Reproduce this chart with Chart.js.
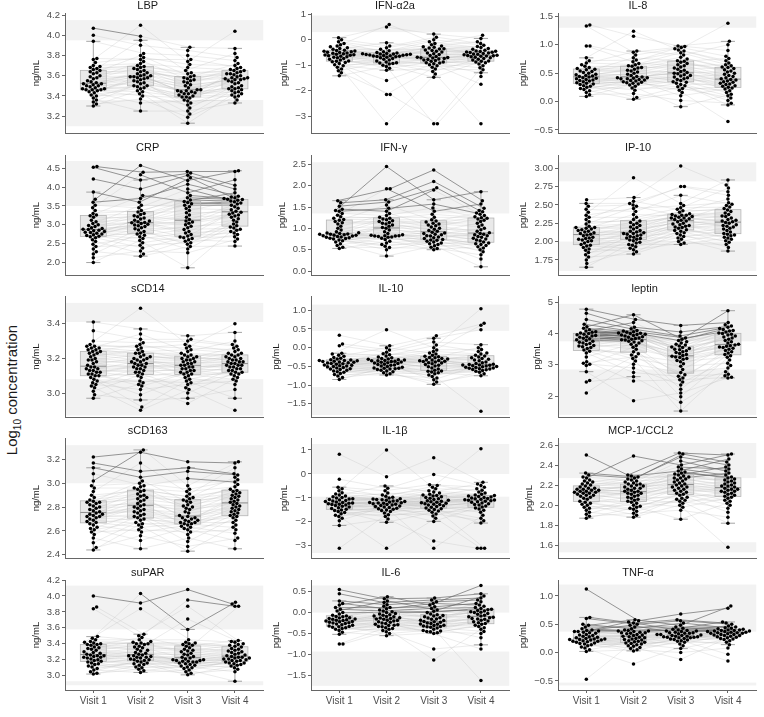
<!DOCTYPE html>
<html>
<head>
<meta charset="utf-8">
<script src="https://cdn.jsdelivr.net/npm/chart.js@4.4.1/dist/chart.umd.min.js"></script>
<style>
  body { margin: 0; background: #fff; width: 764px; height: 717px; position: relative; overflow: hidden; font-family: 'Liberation Sans', Arial, sans-serif; }
  canvas { position: absolute; }
  #ylab { position: absolute; left: 13px; top: 390px; transform: translate(-50%, -50%) rotate(-90deg); white-space: nowrap; font-size: 15px; color: #1a1a1a; }
  #ylab sub { font-size: 10px; }
</style>
</head>
<body>
<div id="ylab">Log<sub>10</sub> concentration</div>
<script>
const visits = ['Visit 1', 'Visit 2', 'Visit 3', 'Visit 4'];
const markers = ['LBP', 'IFN-α2a', 'IL-8', 'CRP', 'IFN-γ', 'IP-10', 'sCD14', 'IL-10', 'leptin',
                 'sCD163', 'IL-1β', 'MCP-1/CCL2', 'suPAR', 'IL-6', 'TNF-α'];
const units = ['ng/mL', 'pg/mL', 'pg/mL', 'ng/mL', 'pg/mL', 'pg/mL', 'ng/mL', 'pg/mL', 'pg/mL',
               'ng/mL', 'pg/mL', 'pg/mL', 'ng/mL', 'pg/mL', 'pg/mL'];
const yRanges = [[3.03, 4.22], [-3.68, 1.05], [-0.56, 1.56], [1.65, 4.86], [-0.1, 2.72], [1.54, 3.18],
                 [2.86, 3.56], [-1.86, 1.38], [1.32, 5.2], [2.37, 3.38], [-3.52, 1.5], [1.47, 2.67],
                 [2.82, 4.2], [-1.85, 0.78], [-0.66, 1.28]];
const yTicks = [[3.2, 3.4, 3.6, 3.8, 4.0, 4.2], [-3, -2, -1, 0, 1], [-0.5, 0, 0.5, 1.0, 1.5],
                [2.0, 2.5, 3.0, 3.5, 4.0, 4.5], [0, 0.5, 1.0, 1.5, 2.0, 2.5], [1.75, 2.0, 2.25, 2.5, 2.75, 3.0],
                [3.0, 3.2, 3.4], [-1.5, -1.0, -0.5, 0, 0.5, 1.0], [2, 3, 4, 5],
                [2.4, 2.6, 2.8, 3.0, 3.2], [-3, -2, -1, 0, 1], [1.6, 1.8, 2.0, 2.2, 2.4, 2.6],
                [3.0, 3.2, 3.4, 3.6, 3.8, 4.0, 4.2], [-1.5, -1.0, -0.5, 0, 0.5], [-0.5, 0, 0.5, 1.0]];
const tickDecimals = [1, 0, 1, 1, 1, 2, 1, 1, 0, 1, 0, 1, 1, 1, 1];
// shaded reference bands, the last one in each list is the upper band
const bands = [[[3.1, 3.36], [3.95, 4.15]], [[0.3, 0.95]], [[1.3, 1.5]], [[3.5, 4.7]], [[1.35, 2.55]],
               [[1.6, 2.0], [2.82, 3.08]], [[2.87, 3.08], [3.41, 3.52]], [[-1.8, -1.05], [0.45, 1.15]],
               [[1.4, 2.85], [3.75, 4.95]], [[3.0, 3.32]], [[-3.3, -0.95], [0, 1.25]],
               [[1.53, 1.63], [2.27, 2.62]], [[2.88, 2.93], [3.58, 4.13]], [[-1.75, -0.93], [0.0, 0.65]],
               [[-0.58, -0.53], [0.37, 1.2]]];

// values per visit, sorted low to high
const lbp = [
  [3.30,3.32,3.34,3.36,3.38,3.40,3.41,3.43,3.44,3.45,3.46,3.46,3.46,3.47,3.47,3.48,3.49,3.50,3.50,3.51,3.52,3.52,3.53,3.54,3.55,3.57,3.58,3.59,3.60,3.62,3.63,3.64,3.65,3.66,3.67,3.68,3.69,3.70,3.73,3.76,3.77,3.94,4.00,4.07],
  [3.25,3.33,3.37,3.40,3.42,3.44,3.45,3.47,3.48,3.49,3.50,3.50,3.52,3.53,3.54,3.55,3.56,3.57,3.58,3.58,3.59,3.59,3.60,3.60,3.61,3.62,3.63,3.64,3.65,3.66,3.67,3.68,3.69,3.70,3.72,3.74,3.76,3.78,3.80,3.82,3.90,3.95,3.99,4.10],
  [3.13,3.19,3.22,3.25,3.28,3.31,3.33,3.35,3.36,3.38,3.39,3.39,3.40,3.41,3.42,3.42,3.43,3.44,3.44,3.45,3.45,3.46,3.46,3.48,3.50,3.51,3.53,3.54,3.55,3.56,3.57,3.58,3.59,3.60,3.62,3.63,3.65,3.68,3.71,3.74,3.76,3.80,3.85,3.88],
  [3.33,3.36,3.39,3.40,3.41,3.42,3.43,3.44,3.45,3.46,3.47,3.47,3.48,3.49,3.50,3.52,3.53,3.54,3.55,3.56,3.56,3.57,3.57,3.58,3.58,3.59,3.60,3.61,3.62,3.62,3.63,3.64,3.65,3.65,3.66,3.67,3.68,3.70,3.72,3.75,3.78,3.82,3.87,4.04]];
const ifna2a = [
  [-1.42,-1.30,-1.22,-1.15,-1.08,-1.02,-0.98,-0.94,-0.90,-0.87,-0.85,-0.84,-0.80,-0.77,-0.74,-0.71,-0.69,-0.67,-0.65,-0.63,-0.61,-0.60,-0.59,-0.57,-0.55,-0.53,-0.52,-0.50,-0.49,-0.47,-0.45,-0.44,-0.42,-0.41,-0.38,-0.35,-0.32,-0.28,-0.25,-0.20,-0.15,-0.08,0.00,0.08],
  [-3.30,-2.15,-2.15,-1.60,-1.20,-1.12,-1.05,-1.00,-0.96,-0.94,-0.92,-0.91,-0.88,-0.84,-0.80,-0.77,-0.74,-0.71,-0.69,-0.67,-0.66,-0.65,-0.64,-0.63,-0.62,-0.61,-0.60,-0.59,-0.58,-0.57,-0.56,-0.56,-0.55,-0.54,-0.52,-0.50,-0.47,-0.43,-0.38,-0.32,-0.25,-0.12,0.50,0.60],
  [-3.30,-3.30,-1.48,-1.35,-1.25,-1.15,-1.08,-1.02,-0.98,-0.95,-0.92,-0.91,-0.88,-0.85,-0.82,-0.80,-0.78,-0.76,-0.74,-0.72,-0.71,-0.70,-0.69,-0.66,-0.62,-0.58,-0.55,-0.52,-0.48,-0.45,-0.42,-0.40,-0.37,-0.36,-0.33,-0.30,-0.28,-0.25,-0.20,-0.15,-0.08,0.00,0.10,0.22],
  [-3.30,-1.75,-1.45,-1.30,-1.18,-1.10,-1.02,-0.96,-0.91,-0.88,-0.85,-0.84,-0.80,-0.77,-0.74,-0.71,-0.69,-0.67,-0.65,-0.64,-0.63,-0.62,-0.61,-0.59,-0.57,-0.56,-0.54,-0.52,-0.50,-0.49,-0.48,-0.46,-0.45,-0.44,-0.41,-0.38,-0.35,-0.31,-0.27,-0.22,-0.15,-0.08,0.05,0.18]];
const il8 = [
  [0.09,0.12,0.16,0.19,0.21,0.23,0.25,0.27,0.28,0.30,0.31,0.32,0.33,0.35,0.36,0.37,0.38,0.39,0.40,0.41,0.42,0.43,0.44,0.45,0.46,0.47,0.48,0.50,0.51,0.53,0.54,0.56,0.57,0.58,0.60,0.62,0.65,0.68,0.72,0.77,0.98,0.98,1.33,1.35],
  [0.04,0.07,0.14,0.20,0.24,0.27,0.29,0.31,0.32,0.33,0.34,0.35,0.36,0.37,0.38,0.39,0.40,0.40,0.41,0.42,0.42,0.43,0.44,0.46,0.48,0.50,0.52,0.54,0.55,0.57,0.59,0.60,0.62,0.63,0.65,0.67,0.70,0.73,0.77,0.82,0.87,0.89,1.15,1.24],
  [-0.09,0.02,0.10,0.16,0.20,0.23,0.26,0.28,0.30,0.32,0.34,0.35,0.37,0.39,0.40,0.42,0.43,0.45,0.46,0.47,0.49,0.50,0.51,0.53,0.55,0.57,0.59,0.61,0.63,0.65,0.67,0.69,0.71,0.72,0.75,0.78,0.82,0.86,0.89,0.91,0.93,0.95,0.97,0.98],
  [-0.35,-0.06,-0.03,0.02,0.06,0.10,0.13,0.16,0.19,0.22,0.24,0.25,0.27,0.28,0.30,0.31,0.32,0.34,0.35,0.36,0.38,0.39,0.40,0.42,0.44,0.46,0.48,0.50,0.52,0.54,0.56,0.58,0.60,0.61,0.63,0.65,0.68,0.72,0.76,0.80,0.90,1.00,1.06,1.38]];
const crp = [
  [1.99,2.12,2.22,2.28,2.35,2.42,2.48,2.55,2.60,2.65,2.68,2.69,2.71,2.73,2.75,2.77,2.79,2.80,2.82,2.84,2.85,2.87,2.88,2.90,2.92,2.95,2.98,3.00,3.03,3.08,3.12,3.20,3.24,3.26,3.30,3.38,3.45,3.52,3.60,3.68,3.87,4.22,4.53,4.55],
  [2.16,2.22,2.30,2.38,2.45,2.52,2.58,2.63,2.68,2.72,2.75,2.78,2.82,2.86,2.89,2.92,2.95,2.97,2.99,3.01,3.03,3.05,3.06,3.08,3.10,3.12,3.15,3.18,3.21,3.24,3.27,3.30,3.34,3.38,3.45,3.52,3.60,3.70,3.78,3.95,4.19,4.33,4.40,4.58],
  [1.85,2.25,2.35,2.42,2.48,2.52,2.56,2.60,2.63,2.65,2.67,2.70,2.74,2.78,2.82,2.87,2.92,2.96,3.00,3.04,3.07,3.10,3.14,3.20,3.26,3.32,3.38,3.43,3.48,3.52,3.56,3.59,3.62,3.66,3.72,3.78,3.85,3.95,4.08,4.18,4.25,4.32,4.38,4.42],
  [2.43,2.55,2.62,2.68,2.74,2.78,2.82,2.85,2.88,2.91,2.94,2.97,3.02,3.07,3.12,3.16,3.20,3.23,3.26,3.28,3.31,3.33,3.36,3.40,3.44,3.48,3.52,3.55,3.58,3.61,3.63,3.65,3.67,3.68,3.70,3.72,3.74,3.76,3.85,3.95,4.05,4.20,4.42,4.44]];
const ifng = [
  [0.53,0.56,0.60,0.64,0.68,0.71,0.73,0.75,0.76,0.77,0.78,0.79,0.80,0.81,0.82,0.83,0.84,0.84,0.85,0.86,0.86,0.87,0.88,0.89,0.90,0.92,0.96,1.00,1.05,1.10,1.13,1.16,1.19,1.21,1.24,1.27,1.31,1.35,1.40,1.42,1.45,1.52,1.60,1.65],
  [0.35,0.50,0.55,0.58,0.62,0.66,0.70,0.74,0.77,0.79,0.80,0.81,0.82,0.82,0.83,0.83,0.84,0.85,0.88,0.92,0.96,1.00,1.02,1.05,1.08,1.10,1.12,1.14,1.16,1.18,1.20,1.22,1.24,1.26,1.30,1.35,1.40,1.47,1.55,1.62,1.67,1.93,1.93,2.45],
  [0.50,0.53,0.56,0.59,0.62,0.64,0.66,0.68,0.70,0.72,0.73,0.74,0.76,0.78,0.80,0.82,0.83,0.85,0.86,0.88,0.89,0.91,0.93,0.95,0.98,1.00,1.03,1.06,1.08,1.10,1.12,1.15,1.17,1.20,1.26,1.33,1.40,1.48,1.57,1.67,1.90,1.95,2.10,2.37],
  [0.10,0.28,0.38,0.45,0.50,0.54,0.57,0.60,0.62,0.64,0.66,0.68,0.71,0.73,0.75,0.77,0.79,0.81,0.83,0.85,0.86,0.88,0.90,0.93,0.97,1.00,1.04,1.08,1.12,1.16,1.19,1.22,1.24,1.25,1.27,1.30,1.33,1.36,1.39,1.42,1.47,1.57,1.65,1.86]];
const ip10 = [
  [1.65,1.70,1.75,1.79,1.82,1.85,1.88,1.90,1.92,1.94,1.95,1.96,1.98,2.00,2.01,2.02,2.03,2.04,2.05,2.06,2.08,2.09,2.10,2.11,2.12,2.13,2.14,2.15,2.16,2.17,2.18,2.19,2.19,2.21,2.24,2.27,2.30,2.33,2.36,2.40,2.44,2.48,2.52,2.57],
  [1.83,1.86,1.89,1.91,1.93,1.95,1.96,1.98,1.99,2.01,2.02,2.03,2.04,2.05,2.06,2.07,2.08,2.09,2.10,2.11,2.11,2.12,2.13,2.14,2.15,2.17,2.19,2.20,2.22,2.23,2.25,2.26,2.28,2.30,2.33,2.37,2.41,2.45,2.48,2.50,2.52,2.55,2.60,2.87],
  [1.96,1.98,2.00,2.03,2.05,2.07,2.09,2.11,2.12,2.14,2.15,2.16,2.18,2.19,2.20,2.21,2.22,2.23,2.24,2.25,2.27,2.28,2.29,2.30,2.31,2.32,2.32,2.33,2.34,2.35,2.36,2.36,2.37,2.38,2.40,2.42,2.44,2.46,2.49,2.52,2.63,2.75,2.75,3.03],
  [1.87,1.92,1.96,1.99,2.01,2.03,2.05,2.06,2.08,2.09,2.10,2.11,2.13,2.15,2.17,2.18,2.20,2.21,2.22,2.23,2.25,2.26,2.27,2.28,2.29,2.30,2.32,2.34,2.35,2.37,2.39,2.41,2.43,2.45,2.47,2.49,2.51,2.53,2.58,2.63,2.68,2.73,2.77,2.84]];
const scd14 = [
  [2.97,2.99,3.01,3.03,3.04,3.05,3.06,3.07,3.08,3.09,3.10,3.10,3.11,3.11,3.12,3.12,3.13,3.13,3.14,3.14,3.15,3.15,3.16,3.17,3.18,3.19,3.19,3.20,3.21,3.22,3.23,3.23,3.24,3.24,3.25,3.25,3.26,3.26,3.27,3.27,3.28,3.30,3.36,3.41],
  [2.90,2.92,2.96,2.99,3.02,3.04,3.05,3.06,3.07,3.09,3.10,3.11,3.12,3.12,3.13,3.14,3.14,3.15,3.15,3.16,3.16,3.17,3.17,3.18,3.18,3.19,3.19,3.20,3.20,3.21,3.21,3.22,3.23,3.23,3.24,3.25,3.26,3.27,3.28,3.29,3.31,3.34,3.37,3.49],
  [2.94,2.97,3.00,3.02,3.03,3.05,3.06,3.07,3.08,3.09,3.10,3.11,3.11,3.12,3.12,3.13,3.13,3.14,3.14,3.15,3.15,3.16,3.16,3.17,3.17,3.18,3.18,3.19,3.19,3.20,3.20,3.21,3.21,3.22,3.22,3.23,3.24,3.25,3.26,3.27,3.28,3.30,3.31,3.33],
  [2.90,2.97,3.02,3.05,3.07,3.08,3.09,3.10,3.11,3.11,3.12,3.12,3.13,3.13,3.14,3.14,3.15,3.15,3.16,3.16,3.16,3.17,3.17,3.18,3.18,3.18,3.19,3.19,3.20,3.20,3.21,3.21,3.22,3.22,3.23,3.23,3.24,3.25,3.26,3.27,3.28,3.30,3.35,3.40]];
const il10 = [
  [-0.85,-0.80,-0.76,-0.72,-0.69,-0.66,-0.64,-0.62,-0.60,-0.58,-0.57,-0.56,-0.54,-0.53,-0.51,-0.50,-0.49,-0.48,-0.47,-0.46,-0.44,-0.43,-0.42,-0.41,-0.40,-0.39,-0.38,-0.37,-0.36,-0.35,-0.34,-0.34,-0.33,-0.32,-0.30,-0.28,-0.26,-0.23,-0.20,-0.17,-0.15,0.05,0.10,0.33],
  [-0.73,-0.70,-0.67,-0.64,-0.62,-0.60,-0.58,-0.57,-0.56,-0.55,-0.55,-0.54,-0.52,-0.50,-0.49,-0.47,-0.46,-0.45,-0.44,-0.42,-0.41,-0.40,-0.39,-0.38,-0.37,-0.36,-0.35,-0.35,-0.34,-0.33,-0.32,-0.31,-0.30,-0.29,-0.27,-0.25,-0.22,-0.19,-0.16,-0.12,-0.06,0.00,0.05,0.48],
  [-0.98,-0.92,-0.86,-0.81,-0.77,-0.73,-0.70,-0.67,-0.65,-0.63,-0.62,-0.60,-0.57,-0.54,-0.51,-0.49,-0.47,-0.45,-0.43,-0.41,-0.40,-0.38,-0.37,-0.36,-0.35,-0.34,-0.33,-0.32,-0.30,-0.29,-0.27,-0.26,-0.24,-0.23,-0.20,-0.17,-0.14,-0.10,-0.06,0.00,0.07,0.15,0.25,0.32],
  [-1.70,-0.75,-0.70,-0.66,-0.63,-0.61,-0.59,-0.58,-0.57,-0.56,-0.55,-0.54,-0.53,-0.52,-0.51,-0.50,-0.49,-0.48,-0.47,-0.46,-0.46,-0.45,-0.44,-0.42,-0.40,-0.38,-0.35,-0.33,-0.31,-0.29,-0.27,-0.25,-0.22,-0.20,-0.17,-0.14,-0.10,-0.05,0.00,0.08,0.48,0.60,0.65,1.04]];
const leptin = [
  [2.10,2.45,2.50,2.78,2.98,3.02,3.05,3.10,3.25,3.38,3.43,3.47,3.52,3.55,3.58,3.60,3.62,3.65,3.68,3.70,3.72,3.75,3.78,3.80,3.83,3.85,3.88,3.90,3.92,3.94,3.96,3.98,4.00,4.02,4.04,4.06,4.08,4.12,4.17,4.22,4.30,4.45,4.65,4.78],
  [1.85,2.48,2.62,2.75,2.90,3.02,3.12,3.20,3.26,3.31,3.35,3.42,3.50,3.56,3.62,3.66,3.70,3.73,3.75,3.77,3.79,3.80,3.82,3.84,3.86,3.88,3.90,3.92,3.94,3.95,3.97,3.98,4.00,4.01,4.02,4.04,4.06,4.08,4.10,4.15,4.20,4.35,4.45,4.60],
  [1.52,1.80,1.98,2.10,2.22,2.35,2.45,2.52,2.58,2.63,2.68,2.75,2.85,2.95,3.03,3.10,3.14,3.18,3.20,3.23,3.25,3.27,3.30,3.33,3.36,3.39,3.42,3.45,3.48,3.50,3.52,3.55,3.57,3.60,3.63,3.66,3.70,3.74,3.78,3.82,3.86,3.92,4.05,4.26],
  [2.58,2.60,2.65,2.70,2.78,2.90,2.98,3.05,3.15,3.24,3.29,3.33,3.38,3.42,3.46,3.50,3.53,3.55,3.57,3.59,3.61,3.63,3.66,3.70,3.74,3.78,3.82,3.86,3.89,3.92,3.95,3.98,4.00,4.02,4.05,4.08,4.10,4.13,4.16,4.20,4.24,4.28,4.35,4.73]];
const scd163 = [
  [2.44,2.46,2.50,2.54,2.57,2.59,2.61,2.62,2.63,2.65,2.66,2.67,2.68,2.69,2.70,2.71,2.72,2.72,2.73,2.74,2.74,2.75,2.76,2.77,2.78,2.79,2.80,2.81,2.82,2.83,2.84,2.84,2.85,2.86,2.88,2.90,2.93,2.96,2.98,3.02,3.08,3.13,3.17,3.22],
  [2.45,2.52,2.56,2.59,2.61,2.63,2.65,2.66,2.67,2.69,2.70,2.71,2.72,2.73,2.74,2.75,2.76,2.77,2.78,2.79,2.80,2.81,2.82,2.83,2.85,2.86,2.87,2.88,2.89,2.90,2.91,2.93,2.94,2.95,2.96,2.97,2.98,3.00,3.02,3.05,3.10,3.17,3.26,3.28],
  [2.43,2.47,2.51,2.54,2.57,2.59,2.61,2.62,2.63,2.64,2.65,2.66,2.66,2.67,2.67,2.68,2.69,2.69,2.70,2.71,2.71,2.72,2.73,2.75,2.76,2.78,2.79,2.80,2.81,2.82,2.84,2.85,2.86,2.87,2.88,2.89,2.91,2.93,2.95,2.98,3.04,3.10,3.13,3.18],
  [2.45,2.52,2.54,2.58,2.61,2.63,2.65,2.67,2.69,2.71,2.72,2.73,2.74,2.75,2.76,2.77,2.78,2.79,2.80,2.81,2.82,2.83,2.84,2.85,2.86,2.87,2.88,2.89,2.90,2.91,2.92,2.93,2.94,2.95,2.97,2.99,3.01,3.03,3.05,3.07,3.08,3.13,3.17,3.18]];
const il1b = [
  [-3.10,-2.15,-1.95,-1.85,-1.78,-1.72,-1.66,-1.61,-1.57,-1.53,-1.50,-1.47,-1.44,-1.41,-1.38,-1.35,-1.32,-1.30,-1.28,-1.26,-1.24,-1.22,-1.21,-1.19,-1.17,-1.15,-1.13,-1.11,-1.09,-1.07,-1.05,-1.03,-1.00,-0.98,-0.95,-0.92,-0.88,-0.84,-0.78,-0.70,-0.62,-0.55,-0.22,0.82],
  [-3.10,-2.02,-1.88,-1.78,-1.70,-1.63,-1.57,-1.53,-1.50,-1.47,-1.45,-1.43,-1.40,-1.38,-1.36,-1.34,-1.32,-1.30,-1.28,-1.26,-1.24,-1.22,-1.21,-1.20,-1.19,-1.17,-1.15,-1.13,-1.12,-1.10,-1.08,-1.07,-1.05,-1.03,-1.00,-0.97,-0.93,-0.88,-0.80,-0.70,-0.60,-0.50,-0.12,1.00],
  [-3.10,-2.80,-1.98,-1.85,-1.75,-1.67,-1.60,-1.55,-1.51,-1.48,-1.45,-1.42,-1.39,-1.36,-1.33,-1.30,-1.28,-1.26,-1.24,-1.22,-1.20,-1.18,-1.16,-1.14,-1.12,-1.10,-1.07,-1.04,-1.01,-0.98,-0.95,-0.92,-0.90,-0.88,-0.85,-0.80,-0.75,-0.70,-0.62,-0.55,-0.48,-0.45,-0.02,0.68],
  [-3.10,-3.10,-3.10,-2.05,-1.95,-1.85,-1.72,-1.60,-1.52,-1.46,-1.42,-1.38,-1.34,-1.30,-1.27,-1.24,-1.21,-1.18,-1.16,-1.14,-1.12,-1.10,-1.09,-1.08,-1.06,-1.04,-1.02,-1.00,-0.98,-0.96,-0.94,-0.92,-0.90,-0.88,-0.85,-0.80,-0.75,-0.68,-0.62,-0.56,-0.48,-0.42,-0.35,1.05]];
const mcp1 = [
  [1.87,1.89,1.91,1.93,1.95,1.97,1.98,2.00,2.01,2.02,2.03,2.04,2.06,2.07,2.08,2.09,2.10,2.10,2.11,2.12,2.12,2.13,2.13,2.14,2.14,2.15,2.15,2.16,2.16,2.17,2.17,2.18,2.19,2.20,2.21,2.22,2.23,2.24,2.25,2.27,2.28,2.30,2.32,2.50],
  [1.88,1.90,1.92,1.94,1.96,1.97,1.98,1.99,2.00,2.02,2.03,2.04,2.05,2.06,2.07,2.08,2.09,2.10,2.11,2.12,2.12,2.13,2.14,2.14,2.15,2.16,2.17,2.17,2.18,2.19,2.19,2.20,2.21,2.21,2.22,2.23,2.24,2.25,2.26,2.27,2.28,2.29,2.30,2.49],
  [1.86,1.95,1.98,2.00,2.02,2.04,2.05,2.06,2.07,2.08,2.10,2.11,2.12,2.13,2.14,2.15,2.16,2.17,2.18,2.18,2.19,2.20,2.21,2.22,2.23,2.24,2.25,2.26,2.27,2.27,2.28,2.29,2.30,2.31,2.32,2.33,2.34,2.36,2.38,2.40,2.44,2.48,2.51,2.52],
  [1.58,1.82,1.88,1.93,1.97,2.00,2.02,2.04,2.05,2.07,2.08,2.09,2.10,2.11,2.12,2.13,2.14,2.14,2.15,2.16,2.16,2.17,2.18,2.19,2.19,2.20,2.21,2.22,2.23,2.24,2.25,2.26,2.27,2.28,2.30,2.32,2.34,2.36,2.38,2.40,2.43,2.46,2.50,2.51]];
const supar = [
  [3.02,3.03,3.05,3.07,3.09,3.11,3.12,3.14,3.15,3.16,3.17,3.18,3.19,3.20,3.21,3.22,3.23,3.23,3.24,3.25,3.25,3.26,3.27,3.28,3.29,3.30,3.32,3.33,3.34,3.35,3.36,3.38,3.39,3.39,3.40,3.41,3.42,3.43,3.45,3.47,3.49,3.84,3.86,4.00],
  [3.04,3.06,3.08,3.10,3.11,3.13,3.14,3.15,3.16,3.17,3.18,3.19,3.20,3.20,3.21,3.22,3.23,3.23,3.24,3.25,3.25,3.26,3.27,3.28,3.29,3.31,3.32,3.33,3.35,3.36,3.37,3.39,3.40,3.40,3.41,3.42,3.43,3.45,3.48,3.50,3.52,3.84,3.91,4.03],
  [3.01,3.03,3.05,3.07,3.09,3.10,3.11,3.12,3.13,3.14,3.15,3.16,3.17,3.17,3.18,3.18,3.19,3.19,3.20,3.20,3.21,3.22,3.23,3.24,3.26,3.27,3.28,3.30,3.31,3.32,3.33,3.35,3.37,3.38,3.39,3.40,3.41,3.42,3.45,3.58,3.71,3.87,3.95,4.08],
  [2.93,3.05,3.08,3.10,3.12,3.13,3.14,3.15,3.16,3.16,3.17,3.18,3.19,3.19,3.20,3.21,3.21,3.22,3.22,3.23,3.23,3.24,3.25,3.26,3.27,3.28,3.29,3.30,3.31,3.32,3.33,3.34,3.36,3.37,3.38,3.39,3.40,3.42,3.43,3.44,3.87,3.87,3.90,3.92]];
const il6 = [
  [-0.75,-0.75,-0.52,-0.47,-0.43,-0.40,-0.38,-0.36,-0.35,-0.34,-0.33,-0.32,-0.30,-0.29,-0.27,-0.26,-0.25,-0.24,-0.23,-0.22,-0.21,-0.20,-0.19,-0.18,-0.17,-0.16,-0.15,-0.14,-0.13,-0.12,-0.10,-0.09,-0.08,-0.06,-0.03,0.00,0.04,0.08,0.12,0.18,0.22,0.28,0.45,0.55],
  [-0.55,-0.50,-0.46,-0.43,-0.40,-0.38,-0.36,-0.34,-0.33,-0.31,-0.30,-0.29,-0.28,-0.26,-0.25,-0.23,-0.22,-0.20,-0.19,-0.18,-0.16,-0.15,-0.14,-0.13,-0.12,-0.10,-0.09,-0.08,-0.06,-0.05,-0.03,-0.02,0.00,0.02,0.04,0.06,0.09,0.12,0.15,0.19,0.24,0.28,0.33,0.38],
  [-1.13,-0.87,-0.50,-0.48,-0.46,-0.45,-0.44,-0.43,-0.40,-0.37,-0.35,-0.34,-0.33,-0.32,-0.31,-0.30,-0.28,-0.27,-0.26,-0.25,-0.23,-0.22,-0.21,-0.19,-0.18,-0.16,-0.15,-0.13,-0.12,-0.10,-0.08,-0.07,-0.05,-0.03,0.00,0.03,0.06,0.10,0.14,0.18,0.22,0.26,0.30,0.35],
  [-1.62,-0.87,-0.77,-0.60,-0.50,-0.45,-0.40,-0.36,-0.33,-0.30,-0.28,-0.26,-0.24,-0.22,-0.20,-0.18,-0.16,-0.15,-0.14,-0.12,-0.11,-0.10,-0.08,-0.06,-0.04,-0.02,0.00,0.01,0.02,0.04,0.05,0.07,0.08,0.10,0.12,0.15,0.18,0.22,0.26,0.30,0.35,0.40,0.45,0.65]];
const tnfa = [
  [-0.47,0.02,0.05,0.08,0.10,0.12,0.14,0.15,0.16,0.17,0.18,0.19,0.20,0.20,0.21,0.22,0.22,0.23,0.23,0.24,0.24,0.25,0.26,0.27,0.28,0.29,0.30,0.31,0.32,0.34,0.35,0.36,0.37,0.37,0.38,0.39,0.40,0.42,0.45,0.48,0.50,0.60,0.62,1.12],
  [-0.20,0.03,0.05,0.07,0.09,0.11,0.12,0.14,0.15,0.16,0.17,0.18,0.19,0.20,0.21,0.22,0.23,0.24,0.25,0.26,0.27,0.28,0.29,0.30,0.31,0.32,0.33,0.34,0.35,0.35,0.36,0.37,0.38,0.38,0.39,0.40,0.42,0.45,0.48,0.50,0.52,0.54,0.56,0.58],
  [-0.12,0.00,0.07,0.12,0.15,0.18,0.20,0.21,0.22,0.23,0.24,0.25,0.26,0.26,0.27,0.27,0.28,0.28,0.29,0.29,0.30,0.30,0.31,0.32,0.32,0.33,0.34,0.34,0.35,0.35,0.36,0.37,0.38,0.38,0.39,0.40,0.41,0.43,0.45,0.48,0.52,0.56,0.58,0.68],
  [-0.15,-0.03,0.08,0.14,0.18,0.21,0.23,0.24,0.25,0.26,0.27,0.28,0.29,0.30,0.30,0.31,0.32,0.32,0.33,0.34,0.34,0.35,0.35,0.36,0.36,0.37,0.37,0.38,0.38,0.39,0.39,0.40,0.40,0.41,0.42,0.43,0.44,0.45,0.47,0.50,0.52,0.54,0.78,0.82]];

const values = [lbp, ifna2a, il8, crp, ifng, ip10, scd14, il10, leptin, scd163, il1b, mcp1, supar, il6, tnfa];
// which rank each subject takes at visits 2 and 4 (visits 1 and 3 use the subject's own rank)
const pairing = [6,2,10,0,13,4,8,1,15,3,11,5,19,7,22,9,14,12,25,16,20,17,28,18,24,21,31,23,35,26,29,27,38,30,33,32,41,34,37,43,36,39,40,42];

// page geometry
const colLeft = [0, 257, 503], colWidth = [265, 254, 255], plotLeft = [65, 311, 558];
const rowTop = [0, 142, 283, 425, 566], rowHeight = [141, 141, 142, 141, 151];
const plotTop = [13, 155, 296, 438, 580], plotBottom = [131, 273, 414, 556, 690];

Chart.defaults.font.family = "'Liberation Sans', Arial, sans-serif";

const lightLine = 'rgba(185,185,185,0.45)';
const darkLine = 'rgba(110,110,110,0.8)';

function fmt(v, d) {
  const s = Math.abs(v).toFixed(d);
  return (v < -1e-9 ? '\u2212' : '') + s;
}

function quantile(s, p) {
  const h = (s.length - 1) * p, lo = Math.floor(h);
  const hi = Math.min(lo + 1, s.length - 1);
  return s[lo] + (s[hi] - s[lo]) * (h - lo);
}

function boxStats(vals) {
  const s = [...vals].sort((a, b) => a - b);
  const q1 = quantile(s, 0.25), med = quantile(s, 0.5), q3 = quantile(s, 0.75), iqr = q3 - q1;
  const inl = s.filter(v => v >= q1 - 1.5 * iqr && v <= q3 + 1.5 * iqr);
  return { q1, med, q3, lo: inl[0], hi: inl[inl.length - 1] };
}

// beeswarm offsets in pixels
function swarmOffsets(vals, yScale, r) {
  const d = 2 * r;
  const pts = vals.map((v, i) => ({ i, py: yScale.getPixelForValue(v), px: 0 }));
  const order = pts.slice().sort((a, b) => b.py - a.py);
  const placed = [];
  for (const p of order) {
    const near = placed.filter(q => Math.abs(q.py - p.py) < d);
    const cands = [0];
    near.forEach(q => {
      const dx = Math.sqrt(d * d - (q.py - p.py) ** 2);
      cands.push(q.px + dx, q.px - dx);
    });
    cands.sort((a, b) => Math.abs(a) - Math.abs(b));
    for (const c of cands) {
      if (near.every(q => (q.px - c) ** 2 + (q.py - p.py) ** 2 >= d * d - 0.01)) { p.px = c; break; }
    }
    placed.push(p);
  }
  return pts.map(p => p.px);
}

function makePlugin(k) {
  const stats = values[k].map(boxStats);
  return {
    id: 'panel' + k,
    beforeDatasetsDraw(chart) {
      const { ctx, chartArea: a, scales: { y } } = chart;
      ctx.save();
      ctx.fillStyle = '#f2f2f2';
      bands[k].forEach(([lo, hi]) => {
        const y1 = Math.max(a.top, y.getPixelForValue(hi));
        const y2 = Math.min(a.bottom, y.getPixelForValue(lo));
        ctx.fillRect(a.left + 1, y1, a.right - a.left - 1, y2 - y1);
      });
      ctx.restore();
    },
    beforeDatasetDraw(chart, args) {
      if (args.index !== 0) return;
      const { ctx, scales: { x, y } } = chart;
      const unit = x.getPixelForValue(1) - x.getPixelForValue(0);
      ctx.save();
      stats.forEach((s, v) => {
        const cx = x.getPixelForValue(v + 1);
        const bw = unit * 0.275, cw = unit * 0.15;
        const yq1 = y.getPixelForValue(s.q1), yq3 = y.getPixelForValue(s.q3);
        const ylo = y.getPixelForValue(s.lo), yhi = y.getPixelForValue(s.hi);
        const ymed = y.getPixelForValue(s.med);
        ctx.strokeStyle = '#9a9a9a';
        ctx.lineWidth = 0.9;
        ctx.beginPath();
        ctx.moveTo(cx, yq1); ctx.lineTo(cx, ylo);
        ctx.moveTo(cx, yq3); ctx.lineTo(cx, yhi);
        ctx.moveTo(cx - cw, ylo); ctx.lineTo(cx + cw, ylo);
        ctx.moveTo(cx - cw, yhi); ctx.lineTo(cx + cw, yhi);
        ctx.stroke();
        ctx.fillStyle = 'rgba(200,200,200,0.4)';
        ctx.fillRect(cx - bw, yq3, 2 * bw, yq1 - yq3);
        ctx.strokeStyle = '#b5b5b5';
        ctx.lineWidth = 0.8;
        ctx.strokeRect(cx - bw, yq3, 2 * bw, yq1 - yq3);
        ctx.strokeStyle = '#8a8a8a';
        ctx.lineWidth = 1;
        ctx.beginPath();
        ctx.moveTo(cx - bw, ymed); ctx.lineTo(cx + bw, ymed);
        ctx.stroke();
      });
      ctx.restore();
    }
  };
}

const panels = [];
markers.forEach((name, k) => {
  const r = Math.floor(k / 3), c = k % 3, bottomRow = r === 4;
  const cv = document.createElement('canvas');
  cv.width = colWidth[c]; cv.height = rowHeight[r];
  cv.style.left = colLeft[c] + 'px'; cv.style.top = rowTop[r] + 'px';
  cv.style.width = colWidth[c] + 'px'; cv.style.height = rowHeight[r] + 'px';
  document.body.appendChild(cv);

  const topBand = bands[k][bands[k].length - 1][0];
  const lineData = [];
  const chart = new Chart(cv, {
    type: 'scatter',
    data: {
      datasets: [
        { type: 'scatter', data: [], pointRadius: 1.75, pointHoverRadius: 1.75, backgroundColor: '#000', borderWidth: 0, showLine: false },
        {
          type: 'line', data: lineData, showLine: true, spanGaps: false, pointRadius: 0, borderWidth: 0.6,
          borderColor: lightLine,
          segment: {
            borderColor: ctx => {
              const a = lineData[ctx.p0DataIndex], b = lineData[ctx.p1DataIndex];
              return a && b && a.y >= topBand && b.y >= topBand ? darkLine : lightLine;
            },
            borderWidth: ctx => {
              const a = lineData[ctx.p0DataIndex], b = lineData[ctx.p1DataIndex];
              return a && b && a.y >= topBand && b.y >= topBand ? 0.9 : 0.6;
            }
          }
        }
      ]
    },
    options: {
      responsive: false,
      animation: false,
      devicePixelRatio: 1,
      events: [],
      layout: { padding: { left: 0, right: 0, top: 0, bottom: 0 } },
      plugins: {
        legend: { display: false },
        tooltip: { enabled: false },
        title: { display: true, text: name, color: '#1a1a1a', font: { size: 11, weight: 'normal' }, padding: { top: 1, bottom: 0 } }
      },
      scales: {
        x: {
          type: 'linear', min: 0.4, max: 4.6,
          afterBuildTicks: s => { s.ticks = visits.map((_, i) => ({ value: i + 1 })); },
          ticks: { display: bottomRow, callback: v => visits[v - 1], color: '#4d4d4d', font: { size: 10 }, padding: 2, maxRotation: 0, autoSkip: false },
          grid: { display: true, drawOnChartArea: false, drawTicks: bottomRow, tickLength: 3, color: '#666' },
          border: { display: true, color: '#666', width: 1 }
        },
        y: {
          type: 'linear', min: yRanges[k][0], max: yRanges[k][1],
          afterBuildTicks: s => { s.ticks = yTicks[k].map(v => ({ value: v })); },
          ticks: { callback: v => fmt(v, tickDecimals[k]), color: '#4d4d4d', font: { size: 9.5 }, padding: 2, autoSkip: false },
          grid: { display: true, drawOnChartArea: false, drawTicks: true, tickLength: 3, color: '#666' },
          border: { display: true, color: '#666', width: 1 },
          title: { display: true, text: units[k], color: '#1a1a1a', font: { size: 9.5 }, padding: { top: 0, bottom: 3 } }
        }
      }
    },
    plugins: [makePlugin(k)]
  });
  panels.push({ chart, k, r, c, lineData });
});

panels.forEach(({ chart, k, r, c, lineData }) => {
  // align plot areas across panels
  const a = chart.chartArea;
  const wantLeft = plotLeft[c] - colLeft[c], wantTop = plotTop[r] - rowTop[r], wantBottom = plotBottom[r] - rowTop[r];
  chart.options.layout.padding = {
    left: wantLeft - a.left, right: 0,
    top: wantTop - a.top, bottom: a.bottom - wantBottom
  };
  chart.update('none');

  const xs = chart.scales.x, ys = chart.scales.y;
  const unit = xs.getPixelForValue(1) - xs.getPixelForValue(0);
  const vals = values[k];
  const xpos = vals.map((arr, v) => swarmOffsets(arr, ys, 1.85).map(o => v + 1 + o / unit));
  const pts = [];
  vals.forEach((arr, v) => arr.forEach((y, i) => pts.push({ x: xpos[v][i], y })));
  chart.data.datasets[0].data = pts;
  lineData.length = 0;
  for (let s = 0; s < vals[0].length; s++) {
    for (let v = 0; v < 4; v++) {
      const idx = v % 2 === 1 ? pairing[s] : s;
      lineData.push({ x: xpos[v][idx], y: vals[v][idx] });
    }
    lineData.push({ x: 4.6, y: null });
  }
  chart.update('none');
});
</script>
</body>
</html>
